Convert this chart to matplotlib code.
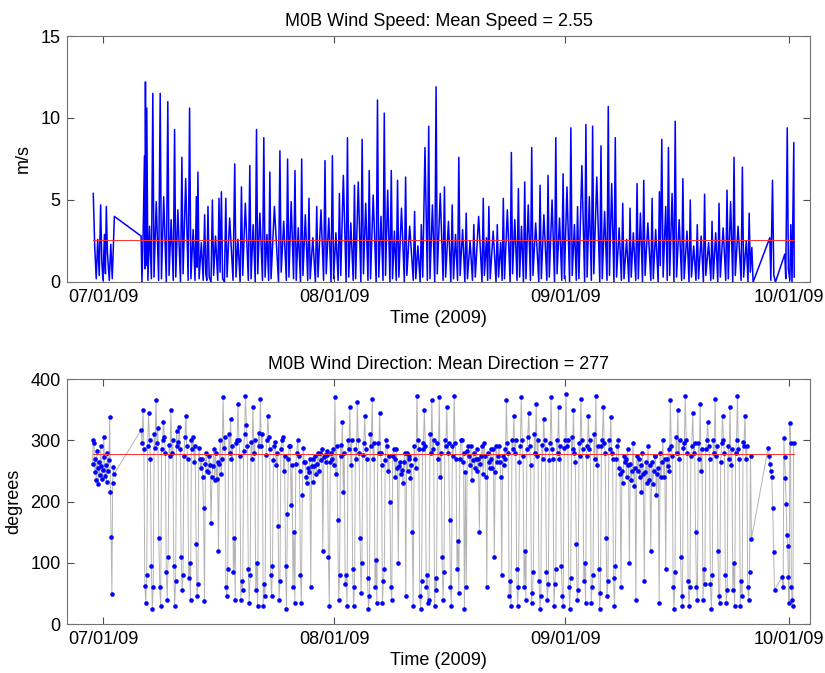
import numpy as np
import pandas as pd
import matplotlib
matplotlib.use("Agg")
import matplotlib.pyplot as plt
import matplotlib.dates as mdates

plt.rcParams["font.family"] = ["Liberation Sans Narrow", "Liberation Sans", "DejaVu Sans"]

T0 = pd.Timestamp("2009-07-01")

# wind speed (m/s), time in days since 07/01/09
spd_day = [
    -1.35, -1.15, -0.95, -0.75, -0.55, -0.36, -0.2, -0.05, 0.15, 0.28,
    0.40, 0.55, 0.8, 1.0, 1.2, 1.48, 5.07, 5.18, 5.35, 5.52,
    5.58, 5.65, 5.75, 5.83, 5.98, 6.2, 6.45, 6.64, 6.8, 7.1,
    7.42, 7.63, 7.8, 8.1, 8.45, 8.65, 8.82, 9.1, 9.38, 9.56,
    9.72, 10.0, 10.35, 10.54, 10.7, 11.05, 11.38, 11.57, 11.75, 12.05,
    12.3, 12.48, 12.58, 12.69, 12.85, 13.15, 13.4, 13.59, 13.75, 13.88,
    14.04, 14.2, 14.45, 14.63, 14.8, 15.05, 15.35, 15.52, 15.66, 15.84,
    16.0, 16.25, 16.43, 16.6, 16.95, 17.4, 17.63, 17.8, 18.05, 18.35,
    18.53, 18.7, 19.05, 19.45, 19.65, 19.82, 20.1, 20.38, 20.55, 20.72,
    21.0, 21.35, 21.53, 21.7, 21.95, 22.18, 22.34, 22.5, 22.95, 23.5,
    23.69, 23.86, 24.2, 24.55, 24.72, 24.9, 25.2, 25.52, 25.71, 25.88,
    26.15, 26.45, 26.61, 26.78, 27.1, 27.42, 27.59, 27.75, 28.1, 28.45,
    28.63, 28.8, 29.2, 29.55, 29.74, 29.9, 30.25, 30.55, 30.73, 30.9,
    31.2, 31.5, 31.67, 31.85, 32.2, 32.57, 32.75, 32.92, 33.2, 33.52,
    33.69, 33.85, 34.2, 34.55, 34.72, 34.9, 35.2, 35.5, 35.67, 35.85,
    36.2, 36.6, 36.78, 36.95, 37.25, 37.52, 37.69, 37.86, 38.15, 38.45,
    38.63, 38.8, 39.05, 39.3, 39.47, 39.65, 40.0, 40.38, 40.55, 40.72,
    41.1, 41.58, 41.76, 41.92, 42.2, 42.5, 42.66, 42.85, 43.15, 43.47,
    43.65, 43.82, 44.15, 44.46, 44.64, 44.8, 45.2, 45.58, 45.76, 45.92,
    46.3, 46.62, 46.80, 46.98, 47.25, 47.52, 47.69, 47.86, 48.2, 48.5,
    48.68, 48.85, 49.2, 49.52, 49.70, 49.9, 50.35, 50.8, 50.97, 51.12,
    51.4, 51.56, 51.72, 51.9, 52.3, 52.68, 52.85, 53.02, 53.3, 53.5,
    53.66, 53.82, 54.2, 54.57, 54.74, 54.9, 55.2, 55.5, 55.68, 55.85,
    56.1, 56.36, 56.53, 56.7, 57.0, 57.3, 57.47, 57.64, 58.0, 58.42,
    58.59, 58.76, 59.1, 59.5, 59.66, 59.83, 60.2, 60.53, 60.70, 60.87,
    61.2, 61.5, 61.68, 61.85, 62.2, 62.55, 62.72, 62.9, 63.2, 63.45,
    63.62, 63.8, 64.2, 64.57, 64.74, 64.9, 65.2, 65.47, 65.64, 65.8,
    66.2, 66.6, 66.76, 66.93, 67.25, 67.57, 67.74, 67.9, 68.2, 68.5,
    68.68, 68.85, 69.2, 69.5, 69.68, 69.85, 70.2, 70.5, 70.66, 70.82,
    71.1, 71.43, 71.60, 71.77, 72.05, 72.33, 72.50, 72.68, 73.05, 73.45,
    73.62, 73.78, 74.1, 74.43, 74.60, 74.72, 74.92, 75.1, 75.45, 75.65,
    75.81, 75.98, 76.3, 76.55, 76.72, 76.9, 77.25, 77.58, 77.75, 77.92,
    78.3, 78.57, 78.74, 78.9, 79.2, 79.5, 79.68, 79.85, 80.2, 80.5,
    80.66, 80.83, 81.2, 81.5, 81.66, 81.83, 82.15, 82.43, 82.60, 82.77,
    83.15, 83.5, 83.67, 83.84, 84.15, 84.44, 84.61, 84.78, 85.15, 85.56,
    85.73, 85.9, 86.25, 86.48, 86.64, 86.8, 87.0, 87.17, 89.41, 89.55,
    89.77, 89.95, 90.17, 91.42, 91.55, 91.75, 91.9, 92.1, 92.23, 92.39,
    92.63, 92.68,
]
spd_val = [
    5.4, 2.1, 0.2, 2.6, 0.4, 4.7, 1.2, 0.1, 2.9, 0.5,
    4.6, 1.8, 0.1, 2.3, 0.2, 4.0, 2.8, 0.0, 3.1, 7.7,
    0.8, 12.2, 1.0, 10.6, 0.1, 3.4, 0.2, 11.5, 0.3, 4.9,
    0.1, 11.5, 0.2, 5.2, 0.0, 11.0, 0.4, 3.8, 0.1, 9.3,
    0.3, 4.4, 0.0, 7.6, 0.5, 6.3, 0.1, 10.6, 0.2, 3.2,
    0.1, 5.2, 0.9, 6.7, 0.2, 2.4, 0.1, 4.1, 0.5, 0.1,
    4.6, 0.3, 0.0, 5.0, 0.4, 2.8, 0.1, 5.1, 0.6, 5.5,
    0.2, 0.0, 5.1, 0.3, 3.9, 0.1, 7.2, 0.3, 2.6, 0.0,
    5.8, 0.4, 4.8, 0.1, 7.1, 0.2, 3.5, 0.0, 9.3, 0.5,
    4.2, 0.1, 8.8, 0.3, 2.9, 0.1, 6.7, 0.2, 4.6, 0.0,
    8.0, 0.6, 3.7, 0.1, 7.5, 0.3, 4.9, 0.2, 6.8, 0.1,
    3.3, 0.0, 7.5, 0.4, 4.1, 0.1, 5.1, 0.2, 2.7, 0.0,
    4.6, 0.3, 4.4, 0.1, 7.4, 0.5, 3.9, 0.0, 7.7, 0.2,
    3.0, 0.1, 5.4, 0.4, 6.5, 0.0, 8.8, 0.3, 3.6, 0.1,
    5.9, 0.2, 6.1, 0.0, 8.7, 0.5, 4.8, 0.1, 6.8, 0.2,
    5.3, 0.0, 11.1, 0.3, 4.0, 0.1, 10.3, 0.4, 5.6, 0.0,
    6.8, 0.2, 3.1, 0.1, 6.2, 0.3, 4.5, 0.0, 6.4, 0.4,
    3.4, 0.1, 4.3, 0.2, 2.2, 0.0, 3.5, 0.3, 8.2, 0.1,
    9.5, 0.2, 4.7, 0.0, 11.9, 0.5, 5.4, 0.1, 5.8, 0.3,
    3.7, 0.0, 4.7, 0.2, 2.9, 0.1, 7.6, 0.4, 3.2, 0.0,
    4.2, 0.2, 2.5, 0.1, 3.5, 0.3, 4.0, 0.0, 5.1, 0.4,
    2.7, 0.1, 4.6, 0.2, 3.1, 0.0, 3.5, 0.3, 2.4, 0.1,
    5.1, 0.2, 4.4, 0.0, 7.9, 0.5, 3.8, 0.1, 5.7, 0.3,
    3.4, 0.0, 6.1, 0.2, 4.7, 0.1, 8.2, 0.4, 3.6, 0.0,
    5.9, 0.2, 4.1, 0.1, 6.5, 0.3, 5.0, 0.0, 8.8, 0.5,
    3.9, 0.1, 6.6, 0.2, 5.8, 0.0, 9.4, 0.4, 3.5, 0.1,
    4.6, 0.2, 7.1, 0.0, 9.6, 0.3, 5.2, 0.1, 9.5, 0.5,
    6.4, 0.0, 8.3, 0.2, 4.3, 0.1, 10.7, 0.4, 6.0, 0.0,
    8.8, 0.3, 3.3, 0.1, 4.8, 0.2, 2.6, 0.0, 4.5, 0.3,
    3.0, 0.1, 6.0, 0.2, 4.2, 0.0, 6.2, 0.4, 3.6, 0.1,
    5.1, 0.2, 3.2, 0.0, 5.5, 1.0, 8.7, 0.3, 4.6, 0.1,
    8.2, 0.4, 5.4, 0.0, 9.8, 0.3, 3.8, 0.1, 6.3, 0.2,
    3.1, 0.0, 5.0, 0.3, 2.2, 0.1, 3.5, 0.2, 2.8, 0.0,
    5.35, 0.4, 2.4, 0.1, 3.7, 0.2, 3.0, 0.0, 4.8, 0.3,
    3.3, 0.1, 5.6, 0.2, 4.9, 0.0, 7.6, 0.4, 3.4, 0.1,
    7.0, 0.3, 2.5, 0.0, 4.2, 0.6, 2.1, 0.0, 2.7, 0.1,
    6.2, 0.4, 0.0, 1.7, 0.2, 9.4, 0.8, 0.1, 3.5, 0.0,
    8.5, 0.3,
]
mean_speed = 2.55

# wind direction (degrees), regularly sampled segments
dir_a_start, dir_a_step = -1.45, 0.1
dir_a = [262, 300, 295, 248, 270, 235, 283, 255, 228, 265,
         244, 290, 258, 236, 252, 305, 272, 241, 260, 232,
         280, 250, 268, 338, 216, 142, 49, 230, 257, 245]

# day by day, 8 readings per day from 07/06
dir_b_start, dir_b_step = 5.07, 0.125
dir_b = [
    317, 295, 350, 285, 62, 35, 80, 290,
    345, 300, 270, 95, 25, 60, 310, 288,
    365, 296, 320, 140, 60, 30, 285, 300,
    330, 305, 280, 85, 40, 110, 292, 275,
    350, 280, 300, 95, 30, 70, 315, 290,
    298, 322, 285, 110, 55, 80, 275, 305,
    340, 290, 270, 75, 100, 40, 300, 285,
    306, 265, 290, 130, 45, 65, 288, 270,
    255, 270, 240, 190, 38, 262, 280, 250,
    248, 275, 260, 165, 240, 258, 285, 235,
    280, 236, 265, 120, 262, 300, 245, 270,
    370, 288, 305, 60, 45, 90, 310, 280,
    335, 270, 290, 85, 140, 40, 295, 300,
    360, 300, 275, 40, 70, 55, 282, 310,
    372, 325, 290, 90, 35, 80, 298, 270,
    355, 280, 300, 55, 100, 30, 312, 290,
    368, 290, 310, 30, 65, 45, 276, 300,
    340, 305, 285, 80, 45, 95, 268, 290,
    298, 260, 280, 160, 40, 70, 285, 300,
    306, 250, 275, 95, 25, 180, 270, 290,
    290, 195, 260, 60, 150, 35, 262, 280,
    300, 275, 250, 80, 35, 210, 288, 265,
    265, 240, 230, 255, 248, 270, 60, 258,
    270, 232, 258, 275, 245, 262, 280, 250,
    280, 268, 285, 120, 272, 276, 265, 282,
    276, 110, 30, 265, 280, 270, 285, 260,
    370, 245, 290, 170, 40, 80, 292, 275,
    330, 215, 280, 65, 80, 30, 300, 285,
    355, 260, 300, 90, 30, 60, 285, 270,
    362, 300, 280, 140, 50, 100, 276, 295,
    340, 285, 270, 75, 25, 45, 310, 290,
    368, 270, 295, 60, 105, 35, 295, 280,
    345, 280, 260, 35, 70, 90, 268, 300,
    290, 250, 275, 200, 60, 40, 275, 285,
    270, 240, 285, 255, 100, 258, 265, 245,
    252, 230, 265, 280, 45, 280, 250, 270,
    275, 238, 260, 150, 30, 290, 270, 255,
    372, 300, 285, 45, 25, 70, 285, 295,
    350, 290, 60, 80, 35, 40, 310, 280,
    365, 285, 300, 30, 75, 55, 295, 270,
    370, 240, 280, 110, 40, 85, 300, 290,
    355, 280, 295, 170, 60, 30, 290, 275,
    372, 295, 270, 90, 135, 50, 270, 300,
    300, 265, 280, 25, 248, 60, 282, 290,
    275, 260, 290, 235, 268, 280, 255, 270,
    285, 250, 270, 150, 262, 275, 290, 245,
    295, 275, 240, 60, 280, 265, 255, 285,
    270, 255, 285, 110, 248, 290, 265, 275,
    290, 265, 240, 80, 275, 260, 285, 270,
    365, 295, 280, 45, 70, 30, 300, 285,
    340, 280, 300, 90, 30, 60, 265, 290,
    370, 300, 275, 60, 120, 40, 285, 305,
    345, 290, 260, 35, 50, 85, 310, 280,
    360, 275, 300, 70, 25, 45, 292, 270,
    335, 300, 285, 85, 40, 65, 268, 295,
    370, 285, 270, 30, 65, 90, 300, 280,
    355, 270, 290, 95, 45, 30, 288, 300,
    375, 290, 300, 60, 25, 75, 305, 285,
    350, 280, 265, 130, 40, 55, 296, 275,
    368, 300, 285, 70, 100, 35, 275, 290,
    340, 285, 300, 35, 60, 80, 310, 270,
    372, 260, 290, 90, 25, 50, 290, 300,
    355, 295, 280, 140, 45, 70, 300, 285,
    338, 280, 270, 75, 30, 95, 270, 290,
    300, 255, 245, 60, 250, 230, 275, 265,
    270, 240, 285, 260, 100, 262, 235, 250,
    295, 225, 255, 40, 275, 250, 270, 240,
    260, 215, 280, 245, 70, 248, 265, 230,
    290, 235, 260, 120, 265, 228, 250, 275,
    275, 210, 245, 255, 35, 280, 240, 265,
    300, 240, 270, 90, 270, 258, 285, 250,
    365, 290, 275, 60, 25, 85, 305, 280,
    350, 270, 300, 110, 45, 30, 288, 295,
    372, 300, 280, 70, 30, 60, 275, 290,
    345, 280, 295, 150, 60, 40, 296, 270,
    360, 250, 285, 40, 90, 65, 285, 300,
    330, 290, 270, 65, 25, 80, 300, 280,
    368, 275, 290, 120, 45, 35, 265, 295,
    340, 300, 280, 80, 35, 55, 290, 270,
    355, 260, 285, 55, 100, 30, 280, 300,
    372, 285, 270, 30, 70, 45, 298, 290,
    340, 270, 290, 60, 40, 85, 275, 139,
]

dir_c_start, dir_c_step = 89.2, 0.12
dir_c = [288, 275, 262, 250, 240, 190, 118, 56]

dir_d_start, dir_d_step = 91.1, 0.1
dir_d = [77, 61, 303, 272, 239, 196, 145, 128, 77, 34, 328, 296, 61, 40, 29, 296]
mean_dir = 277


def to_dates(days):
    return T0 + pd.to_timedelta(np.asarray(days, dtype=float), unit="D")


def seg_days(start, step, vals):
    return start + step * np.arange(len(vals))


def style_axes(ax, ylim, yticks, ylabel, title):
    lo, hi = to_dates([-4.83, 94.8])
    ax.set_xlim(lo, hi)
    ax.set_ylim(*ylim)
    ax.set_yticks(yticks)
    ax.xaxis.set_major_locator(mdates.MonthLocator())
    ax.xaxis.set_major_formatter(mdates.DateFormatter("%m/%d/%y"))
    ax.tick_params(direction="in", top=True, right=True, length=5,
                   width=0.8, color="0.3", labelsize=13, pad=5)
    for s in ax.spines.values():
        s.set_color("0.45")
        s.set_linewidth(0.8)
    ax.set_xlabel("Time (2009)", fontsize=13, labelpad=3)
    ax.set_ylabel(ylabel, fontsize=13, labelpad=6)
    ax.set_title(title, fontsize=13, pad=7)


fig = plt.figure(figsize=(8.25, 6.73), dpi=100)
ax1 = fig.add_axes([0.0816, 0.581, 0.9002, 0.3655])
ax2 = fig.add_axes([0.0816, 0.0728, 0.9002, 0.364])

# speed
t_spd = to_dates(spd_day)
ax1.plot(t_spd, spd_val, color="#0000ff", lw=1.1)
ax1.plot(to_dates([spd_day[0], spd_day[-1]]), [mean_speed, mean_speed],
         color="#ff3030", lw=0.7)
style_axes(ax1, (0, 15), [0, 5, 10, 15], "m/s",
           f"M0B Wind Speed: Mean Speed = {mean_speed:.2f}")

# direction
d_days = np.concatenate([
    seg_days(dir_a_start, dir_a_step, dir_a),
    seg_days(dir_b_start, dir_b_step, dir_b),
    seg_days(dir_c_start, dir_c_step, dir_c),
    seg_days(dir_d_start, dir_d_step, dir_d),
])
d_vals = np.concatenate([dir_a, dir_b, dir_c, dir_d])
t_dir = to_dates(d_days)
ax2.plot(t_dir, d_vals, color="#b4b4b4", lw=0.7)
ax2.plot(t_dir, d_vals, "o", color="#0000ff", ms=3.3, mew=0)
ax2.plot(to_dates([d_days[0], d_days[-1]]), [mean_dir, mean_dir],
         color="#ff3030", lw=0.7)
style_axes(ax2, (0, 400), [0, 100, 200, 300, 400], "degrees",
           f"M0B Wind Direction: Mean Direction = {mean_dir}")

fig.savefig("out.png", dpi=100)
